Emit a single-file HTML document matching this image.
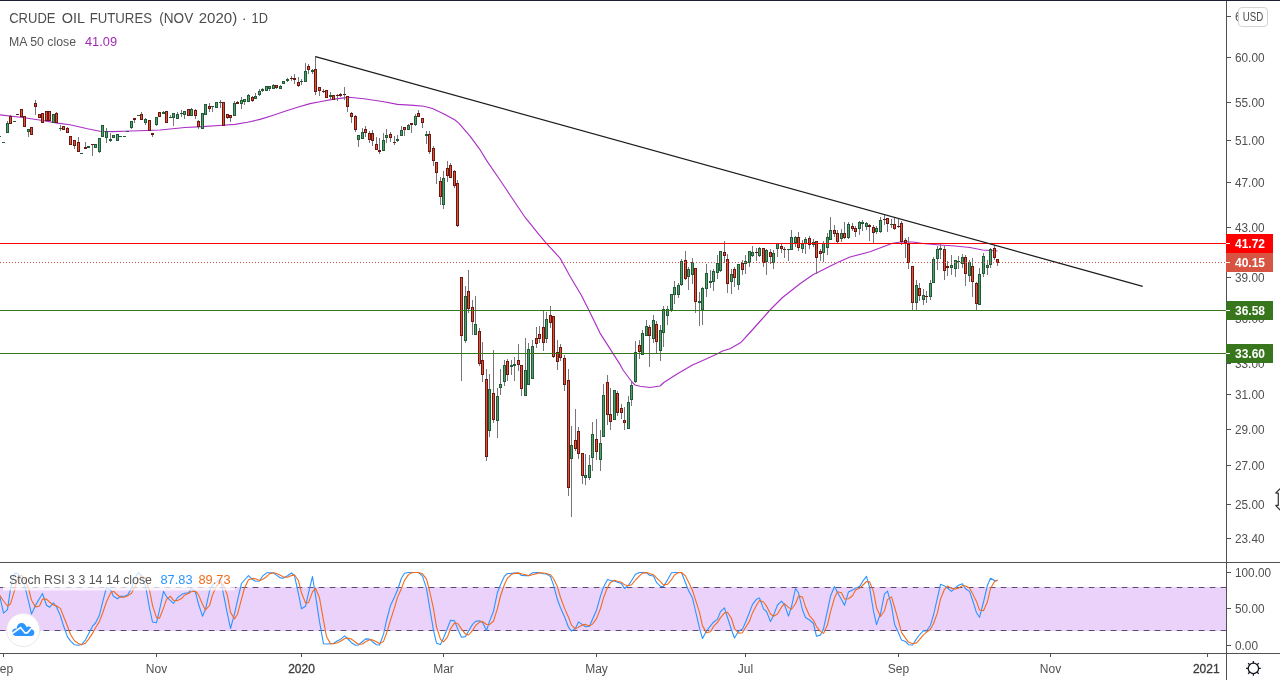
<!DOCTYPE html>
<html lang="en"><head><meta charset="utf-8"><title>CRUDE OIL FUTURES (NOV 2020) 1D</title>
<style>html,body{margin:0;padding:0;background:#fff;width:1280px;height:680px;overflow:hidden}svg{display:block}</style>
</head><body>
<svg width="1280" height="680" viewBox="0 0 1280 680" font-family="Liberation Sans, Arial, sans-serif">
<rect width="1280" height="680" fill="#fff"/>
<rect x="0" y="587" width="1226" height="44" fill="#ebd2fb"/>
<path d="M0 587.5H1226M0 630.5H1226" stroke="#5a4a78" stroke-width="1" stroke-dasharray="5.7 5.3" stroke-dashoffset="0.3" fill="none"/>
<path d="M-7.6 595.0 L-4.1 595.0 L-0.5 595.0 L3.5 613.1 L7.5 609.7 L10.5 588.5 L14.5 573.4 L17.5 573.2 L21.5 579.1 L24.5 585.2 L28.5 601.2 L31.5 614.0 L35.5 605.4 L39.5 598.5 L42.5 593.5 L46.5 605.2 L49.5 607.3 L53.5 602.8 L56.5 607.0 L60.5 616.0 L63.5 625.8 L67.5 636.9 L70.5 640.9 L74.5 644.8 L78.5 645.3 L81.5 644.5 L85.5 639.8 L88.5 634.1 L92.5 626.2 L95.5 623.0 L99.5 614.9 L102.5 602.7 L106.5 587.5 L110.5 589.8 L113.5 596.3 L117.5 598.8 L120.5 596.4 L124.5 596.2 L127.5 595.1 L131.5 588.5 L134.5 578.5 L138.5 572.5 L141.5 576.1 L145.5 585.9 L149.5 608.0 L152.5 622.0 L156.5 622.7 L159.5 610.2 L163.5 591.3 L166.5 596.8 L170.5 600.7 L173.5 603.3 L177.5 597.8 L181.5 594.6 L184.5 593.2 L188.5 592.9 L191.5 588.3 L195.5 592.4 L198.5 604.0 L202.5 616.2 L205.5 609.3 L209.5 591.0 L212.5 585.0 L216.5 581.9 L220.5 579.0 L223.5 594.4 L227.5 614.3 L230.5 628.5 L234.5 613.8 L237.5 600.4 L241.5 583.5 L244.5 580.0 L248.5 575.6 L252.5 579.6 L255.5 581.2 L259.5 581.0 L262.5 576.2 L266.5 572.8 L269.5 572.8 L273.5 572.8 L276.5 575.1 L280.5 578.0 L283.5 578.1 L287.5 575.8 L291.5 573.0 L294.5 575.8 L298.5 593.8 L301.5 608.8 L305.5 606.3 L308.5 592.9 L312.5 576.5 L315.5 595.3 L319.5 621.7 L323.5 643.8 L326.5 644.0 L330.5 643.7 L333.5 643.5 L337.5 640.8 L340.5 639.4 L344.5 635.9 L347.5 638.5 L351.5 642.7 L355.5 645.3 L358.5 645.0 L362.5 641.5 L365.5 638.9 L369.5 639.1 L372.5 641.7 L376.5 644.8 L379.5 645.0 L383.5 634.4 L386.5 620.5 L390.5 605.4 L394.5 597.0 L397.5 590.0 L401.5 578.0 L404.5 573.3 L408.5 572.5 L411.5 572.5 L415.5 572.5 L418.5 572.5 L422.5 576.2 L426.5 588.6 L429.5 606.7 L433.5 630.4 L436.5 643.2 L440.5 644.5 L443.5 638.0 L447.5 628.1 L450.5 620.3 L454.5 620.9 L457.5 628.4 L461.5 637.2 L465.5 636.6 L468.5 631.2 L472.5 624.4 L475.5 621.4 L479.5 620.7 L482.5 622.3 L486.5 630.5 L489.5 621.4 L493.5 611.2 L497.5 592.2 L500.5 584.7 L504.5 576.1 L507.5 573.5 L511.5 573.4 L514.5 573.1 L518.5 572.8 L521.5 575.5 L525.5 575.6 L528.5 575.6 L532.5 572.7 L536.5 572.5 L539.5 572.8 L543.5 573.8 L546.5 574.0 L550.5 576.6 L553.5 585.0 L557.5 599.8 L560.5 607.8 L564.5 616.7 L568.5 627.3 L571.5 631.1 L575.5 628.3 L578.5 621.9 L582.5 624.6 L585.5 626.8 L589.5 626.3 L592.5 619.3 L596.5 610.3 L600.5 595.9 L603.5 587.2 L607.5 579.4 L610.5 580.6 L614.5 580.9 L617.5 582.2 L621.5 583.6 L624.5 588.5 L628.5 585.1 L631.5 580.8 L635.5 574.2 L639.5 572.5 L642.5 572.5 L646.5 572.9 L649.5 575.2 L653.5 576.0 L656.5 582.4 L660.5 586.4 L663.5 586.5 L667.5 579.9 L671.5 572.7 L674.5 572.5 L678.5 572.5 L681.5 572.5 L685.5 582.8 L688.5 590.6 L692.5 598.1 L695.5 611.0 L699.5 628.2 L702.5 638.5 L706.5 631.0 L710.5 625.9 L713.5 622.2 L717.5 619.1 L720.5 611.6 L724.5 607.9 L727.5 617.5 L731.5 630.0 L734.5 638.0 L738.5 631.2 L742.5 629.1 L745.5 622.2 L749.5 612.2 L752.5 604.4 L756.5 599.3 L759.5 597.9 L763.5 608.9 L766.5 611.5 L770.5 621.6 L773.5 615.4 L777.5 605.0 L781.5 601.2 L784.5 604.8 L788.5 616.1 L791.5 606.6 L795.5 588.5 L798.5 592.8 L802.5 610.0 L805.5 617.5 L809.5 620.0 L813.5 623.5 L816.5 636.3 L820.5 635.1 L823.5 628.7 L827.5 610.7 L830.5 596.2 L834.5 586.5 L837.5 592.4 L841.5 599.4 L844.5 605.3 L848.5 591.9 L852.5 590.1 L855.5 588.2 L859.5 586.6 L862.5 581.7 L866.5 576.3 L869.5 587.2 L873.5 611.2 L876.5 624.6 L880.5 613.7 L884.5 593.9 L887.5 591.2 L891.5 605.6 L894.5 624.2 L898.5 632.8 L901.5 640.1 L905.5 641.5 L908.5 644.7 L912.5 645.0 L916.5 638.9 L919.5 634.8 L923.5 630.7 L926.5 631.0 L930.5 625.2 L933.5 615.0 L937.5 597.7 L940.5 584.3 L944.5 585.9 L947.5 588.0 L951.5 591.4 L955.5 587.6 L958.5 585.3 L962.5 583.8 L965.5 588.8 L969.5 591.4 L972.5 600.0 L976.5 612.7 L979.5 617.3 L983.5 602.0 L987.5 585.2 L990.5 578.3 L994.5 580.6 L997.5 580.6" fill="none" stroke="#2b95ff" stroke-width="1.1" stroke-linejoin="round" />
<path d="M-0.5 595.0 L3.5 601.0 L7.5 606.0 L10.5 603.8 L14.5 590.6 L17.5 578.4 L21.5 575.2 L24.5 579.2 L28.5 588.5 L31.5 600.2 L35.5 606.9 L39.5 606.0 L42.5 599.1 L46.5 599.1 L49.5 602.0 L53.5 605.1 L56.5 605.7 L60.5 608.6 L63.5 616.3 L67.5 626.2 L70.5 634.5 L74.5 640.8 L78.5 643.6 L81.5 644.8 L85.5 643.2 L88.5 639.4 L92.5 633.4 L95.5 627.8 L99.5 621.4 L102.5 613.5 L106.5 601.7 L110.5 593.3 L113.5 591.2 L117.5 595.0 L120.5 597.2 L124.5 597.1 L127.5 595.9 L131.5 593.3 L134.5 587.4 L138.5 579.9 L141.5 575.7 L145.5 578.2 L149.5 590.0 L152.5 605.3 L156.5 617.6 L159.5 618.3 L163.5 608.1 L166.5 599.4 L170.5 596.3 L173.5 600.3 L177.5 600.6 L181.5 598.6 L184.5 595.2 L188.5 593.6 L191.5 591.5 L195.5 591.2 L198.5 594.9 L202.5 604.2 L205.5 609.9 L209.5 605.5 L212.5 595.1 L216.5 586.0 L220.5 582.0 L223.5 585.1 L227.5 595.9 L230.5 612.4 L234.5 618.9 L237.5 614.2 L241.5 599.2 L244.5 588.0 L248.5 579.7 L252.5 578.4 L255.5 578.8 L259.5 580.6 L262.5 579.5 L266.5 576.7 L269.5 573.9 L273.5 572.8 L276.5 573.5 L280.5 575.3 L283.5 577.1 L287.5 577.3 L291.5 575.6 L294.5 574.8 L298.5 580.8 L301.5 592.8 L305.5 602.9 L308.5 602.6 L312.5 591.9 L315.5 588.2 L319.5 597.8 L323.5 620.3 L326.5 636.5 L330.5 643.8 L333.5 643.7 L337.5 642.7 L340.5 641.3 L344.5 638.7 L347.5 638.0 L351.5 639.1 L355.5 642.2 L358.5 644.3 L362.5 644.0 L365.5 641.8 L369.5 639.8 L372.5 639.9 L376.5 641.8 L379.5 643.8 L383.5 641.4 L386.5 633.3 L390.5 620.1 L394.5 607.6 L397.5 597.4 L401.5 588.3 L404.5 580.4 L408.5 574.6 L411.5 572.8 L415.5 572.5 L418.5 572.5 L422.5 573.8 L426.5 579.1 L429.5 590.5 L433.5 608.6 L436.5 626.8 L440.5 639.3 L443.5 641.9 L447.5 636.9 L450.5 628.8 L454.5 623.1 L457.5 623.2 L461.5 628.9 L465.5 634.1 L468.5 635.0 L472.5 630.7 L475.5 625.7 L479.5 622.1 L482.5 621.5 L486.5 624.5 L489.5 624.7 L493.5 621.0 L497.5 608.3 L500.5 596.0 L504.5 584.3 L507.5 578.1 L511.5 574.3 L514.5 573.4 L518.5 573.1 L521.5 573.8 L525.5 574.7 L528.5 575.6 L532.5 574.7 L536.5 573.6 L539.5 572.7 L543.5 573.0 L546.5 573.5 L550.5 574.8 L553.5 578.5 L557.5 587.1 L560.5 597.5 L564.5 608.1 L568.5 617.3 L571.5 625.1 L575.5 628.9 L578.5 627.1 L582.5 624.9 L585.5 624.4 L589.5 625.9 L592.5 624.1 L596.5 618.6 L600.5 608.5 L603.5 597.8 L607.5 587.5 L610.5 582.4 L614.5 580.3 L617.5 581.2 L621.5 582.2 L624.5 584.8 L628.5 585.7 L631.5 584.8 L635.5 580.0 L639.5 575.8 L642.5 573.1 L646.5 572.6 L649.5 573.6 L653.5 574.7 L656.5 577.9 L660.5 581.6 L663.5 585.1 L667.5 584.3 L671.5 579.7 L674.5 575.0 L678.5 572.6 L681.5 572.5 L685.5 575.9 L688.5 582.0 L692.5 590.5 L695.5 599.9 L699.5 612.4 L702.5 625.9 L706.5 632.6 L710.5 631.8 L713.5 626.4 L717.5 622.4 L720.5 617.6 L724.5 612.9 L727.5 612.3 L731.5 618.5 L734.5 628.5 L738.5 633.1 L742.5 632.8 L745.5 627.5 L749.5 621.1 L752.5 612.9 L756.5 605.3 L759.5 600.5 L763.5 602.0 L766.5 606.1 L770.5 614.0 L773.5 616.2 L777.5 614.0 L781.5 607.2 L784.5 603.7 L788.5 607.4 L791.5 609.2 L795.5 603.7 L798.5 596.0 L802.5 597.1 L805.5 606.8 L809.5 615.8 L813.5 620.3 L816.5 626.6 L820.5 631.6 L823.5 633.4 L827.5 624.8 L830.5 611.8 L834.5 597.8 L837.5 591.7 L841.5 592.8 L844.5 599.0 L848.5 598.8 L852.5 595.8 L855.5 590.1 L859.5 588.3 L862.5 585.5 L866.5 581.5 L869.5 581.7 L873.5 591.6 L876.5 607.7 L880.5 616.5 L884.5 610.7 L887.5 599.6 L891.5 596.9 L894.5 607.0 L898.5 620.9 L901.5 632.4 L905.5 638.1 L908.5 642.1 L912.5 643.7 L916.5 642.9 L919.5 639.6 L923.5 634.8 L926.5 632.2 L930.5 629.0 L933.5 623.7 L937.5 612.6 L940.5 599.0 L944.5 589.3 L947.5 586.0 L951.5 588.4 L955.5 589.0 L958.5 588.1 L962.5 585.6 L965.5 586.0 L969.5 588.0 L972.5 593.4 L976.5 601.4 L979.5 610.0 L983.5 610.7 L987.5 601.5 L990.5 588.5 L994.5 581.4 L997.5 579.9" fill="none" stroke="#f26b1d" stroke-width="1.1" stroke-linejoin="round" />
<path d="M0.0 114.8 L22.5 117.5 L41.0 120.2 L57.5 123.1 L70.0 124.8 L87.5 128.8 L100.0 131.2 L112.5 131.6 L131.0 131.0 L160.0 130.0 L185.0 127.5 L202.5 126.6 L222.5 125.2 L235.0 124.4 L247.5 122.2 L260.0 119.4 L272.5 115.5 L285.0 111.3 L297.5 107.3 L310.0 103.6 L320.0 101.7 L332.5 99.4 L343.8 97.9 L348.8 97.2 L363.8 98.8 L382.5 101.5 L397.5 104.4 L413.8 105.4 L423.8 106.2 L432.5 108.5 L445.0 114.4 L455.0 120.0 L458.8 123.1 L470.0 136.2 L480.0 149.7 L487.5 161.9 L500.0 180.0 L512.5 198.8 L525.0 217.2 L538.8 234.4 L546.2 243.1 L560.0 258.1 L562.5 262.5 L570.0 276.2 L581.2 295.0 L588.8 310.0 L600.0 333.1 L620.0 364.4 L623.0 370.0 L632.0 382.0 L635.0 385.0 L640.0 386.2 L650.0 387.5 L660.0 386.0 L663.8 382.5 L677.5 373.8 L692.5 365.0 L705.0 359.4 L717.5 353.8 L722.5 351.0 L730.0 348.8 L741.2 342.2 L750.0 332.5 L761.2 320.0 L770.0 310.0 L782.5 297.5 L800.0 283.8 L812.5 275.0 L825.0 268.8 L837.5 262.5 L850.0 257.0 L870.0 251.8 L882.5 247.0 L892.5 243.2 L902.5 241.8 L912.5 242.0 L925.0 243.8 L940.0 245.0 L955.0 246.0 L970.0 247.5 L982.5 250.0 L997.5 251.0" fill="none" stroke="#ab30c6" stroke-width="1.15" stroke-linejoin="round" />
<g shape-rendering="crispEdges">
<rect x="-2.0" y="136" width="3" height="1" fill="#1f5c36"/>
<rect x="2.0" y="142" width="3" height="1" fill="#1f5c36"/>
<rect x="7.0" y="121" width="1" height="12" fill="#75757a"/>
<rect x="6.0" y="123" width="3" height="10" fill="#1f5c36"/>
<rect x="7.0" y="124" width="1" height="8" fill="#5a9a70"/>
<rect x="10.0" y="115" width="1" height="9" fill="#75757a"/>
<rect x="9.0" y="116" width="3" height="8" fill="#6b1810"/>
<rect x="10.0" y="117" width="1" height="6" fill="#e0533a"/>
<rect x="13.0" y="121" width="3" height="1" fill="#1f5c36"/>
<rect x="16.0" y="114" width="3" height="1" fill="#6b1810"/>
<rect x="20.0" y="109" width="3" height="8" fill="#6b1810"/>
<rect x="21.0" y="110" width="1" height="6" fill="#e0533a"/>
<rect x="23.0" y="116" width="3" height="11" fill="#6b1810"/>
<rect x="24.0" y="117" width="1" height="9" fill="#e0533a"/>
<rect x="28.0" y="129" width="1" height="8" fill="#75757a"/>
<rect x="27.0" y="129" width="3" height="3" fill="#1f5c36"/>
<rect x="28.0" y="130" width="1" height="1" fill="#5a9a70"/>
<rect x="30.0" y="127" width="3" height="8" fill="#6b1810"/>
<rect x="31.0" y="128" width="1" height="6" fill="#e0533a"/>
<rect x="35.0" y="100" width="1" height="15" fill="#75757a"/>
<rect x="34.0" y="103" width="3" height="4" fill="#6b1810"/>
<rect x="35.0" y="104" width="1" height="2" fill="#e0533a"/>
<rect x="38.0" y="114" width="3" height="4" fill="#6b1810"/>
<rect x="39.0" y="115" width="1" height="2" fill="#e0533a"/>
<rect x="41.0" y="113" width="3" height="10" fill="#6b1810"/>
<rect x="42.0" y="114" width="1" height="8" fill="#e0533a"/>
<rect x="45.0" y="111" width="3" height="10" fill="#6b1810"/>
<rect x="46.0" y="112" width="1" height="8" fill="#e0533a"/>
<rect x="48.0" y="111" width="3" height="10" fill="#6b1810"/>
<rect x="49.0" y="112" width="1" height="8" fill="#e0533a"/>
<rect x="52.0" y="114" width="3" height="9" fill="#1f5c36"/>
<rect x="53.0" y="115" width="1" height="7" fill="#5a9a70"/>
<rect x="56.0" y="112" width="1" height="11" fill="#75757a"/>
<rect x="55.0" y="113" width="3" height="10" fill="#6b1810"/>
<rect x="56.0" y="114" width="1" height="8" fill="#e0533a"/>
<rect x="60.0" y="125" width="1" height="6" fill="#75757a"/>
<rect x="59.0" y="128" width="3" height="1" fill="#1f5c36"/>
<rect x="62.0" y="126" width="3" height="4" fill="#6b1810"/>
<rect x="63.0" y="127" width="1" height="2" fill="#e0533a"/>
<rect x="67.0" y="127" width="1" height="6" fill="#75757a"/>
<rect x="66.0" y="128" width="3" height="5" fill="#6b1810"/>
<rect x="67.0" y="129" width="1" height="3" fill="#e0533a"/>
<rect x="69.0" y="136" width="3" height="9" fill="#6b1810"/>
<rect x="70.0" y="137" width="1" height="7" fill="#e0533a"/>
<rect x="74.0" y="140" width="1" height="9" fill="#75757a"/>
<rect x="73.0" y="140" width="3" height="6" fill="#6b1810"/>
<rect x="74.0" y="141" width="1" height="4" fill="#e0533a"/>
<rect x="78.0" y="137" width="1" height="15" fill="#75757a"/>
<rect x="77.0" y="142" width="3" height="10" fill="#6b1810"/>
<rect x="78.0" y="143" width="1" height="8" fill="#e0533a"/>
<rect x="80.0" y="153" width="3" height="1" fill="#1f5c36"/>
<rect x="85.0" y="142" width="1" height="7" fill="#75757a"/>
<rect x="84.0" y="147" width="3" height="2" fill="#6b1810"/>
<rect x="87.0" y="146" width="3" height="2" fill="#1f5c36"/>
<rect x="92.0" y="144" width="1" height="12" fill="#75757a"/>
<rect x="91.0" y="144" width="3" height="1" fill="#6b1810"/>
<rect x="94.0" y="144" width="3" height="4" fill="#1f5c36"/>
<rect x="95.0" y="145" width="1" height="2" fill="#5a9a70"/>
<rect x="99.0" y="138" width="1" height="15" fill="#75757a"/>
<rect x="98.0" y="138" width="3" height="14" fill="#1f5c36"/>
<rect x="99.0" y="139" width="1" height="12" fill="#5a9a70"/>
<rect x="101.0" y="125" width="3" height="12" fill="#1f5c36"/>
<rect x="102.0" y="126" width="1" height="10" fill="#5a9a70"/>
<rect x="106.0" y="128" width="1" height="15" fill="#75757a"/>
<rect x="105.0" y="131" width="3" height="7" fill="#1f5c36"/>
<rect x="106.0" y="132" width="1" height="5" fill="#5a9a70"/>
<rect x="110.0" y="133" width="1" height="9" fill="#75757a"/>
<rect x="109.0" y="139" width="3" height="2" fill="#1f5c36"/>
<rect x="112.0" y="135" width="3" height="3" fill="#1f5c36"/>
<rect x="113.0" y="136" width="1" height="1" fill="#5a9a70"/>
<rect x="116.0" y="134" width="3" height="7" fill="#1f5c36"/>
<rect x="117.0" y="135" width="1" height="5" fill="#5a9a70"/>
<rect x="119.0" y="136" width="3" height="1" fill="#1f5c36"/>
<rect x="123.0" y="136" width="3" height="1" fill="#1f5c36"/>
<rect x="126.0" y="131" width="3" height="1" fill="#1f5c36"/>
<rect x="131.0" y="121" width="1" height="8" fill="#75757a"/>
<rect x="130.0" y="121" width="3" height="7" fill="#1f5c36"/>
<rect x="131.0" y="122" width="1" height="5" fill="#5a9a70"/>
<rect x="134.0" y="118" width="1" height="5" fill="#75757a"/>
<rect x="133.0" y="118" width="3" height="2" fill="#6b1810"/>
<rect x="137.0" y="115" width="3" height="1" fill="#1f5c36"/>
<rect x="141.0" y="112" width="1" height="8" fill="#75757a"/>
<rect x="140.0" y="114" width="3" height="6" fill="#6b1810"/>
<rect x="141.0" y="115" width="1" height="4" fill="#e0533a"/>
<rect x="145.0" y="118" width="1" height="7" fill="#75757a"/>
<rect x="144.0" y="119" width="3" height="4" fill="#1f5c36"/>
<rect x="145.0" y="120" width="1" height="2" fill="#5a9a70"/>
<rect x="148.0" y="120" width="3" height="11" fill="#6b1810"/>
<rect x="149.0" y="121" width="1" height="9" fill="#e0533a"/>
<rect x="152.0" y="133" width="1" height="4" fill="#75757a"/>
<rect x="151.0" y="133" width="3" height="2" fill="#6b1810"/>
<rect x="156.0" y="117" width="1" height="9" fill="#75757a"/>
<rect x="155.0" y="117" width="3" height="8" fill="#1f5c36"/>
<rect x="156.0" y="118" width="1" height="6" fill="#5a9a70"/>
<rect x="158.0" y="112" width="3" height="5" fill="#6b1810"/>
<rect x="159.0" y="113" width="1" height="3" fill="#e0533a"/>
<rect x="163.0" y="111" width="1" height="3" fill="#75757a"/>
<rect x="162.0" y="112" width="3" height="2" fill="#1f5c36"/>
<rect x="165.0" y="111" width="3" height="12" fill="#6b1810"/>
<rect x="166.0" y="112" width="1" height="10" fill="#e0533a"/>
<rect x="170.0" y="115" width="1" height="2" fill="#75757a"/>
<rect x="169.0" y="117" width="3" height="1" fill="#1f5c36"/>
<rect x="173.0" y="113" width="1" height="13" fill="#75757a"/>
<rect x="172.0" y="113" width="3" height="5" fill="#1f5c36"/>
<rect x="173.0" y="114" width="1" height="3" fill="#5a9a70"/>
<rect x="177.0" y="112" width="1" height="7" fill="#75757a"/>
<rect x="176.0" y="114" width="3" height="5" fill="#1f5c36"/>
<rect x="177.0" y="115" width="1" height="3" fill="#5a9a70"/>
<rect x="181.0" y="110" width="1" height="7" fill="#75757a"/>
<rect x="180.0" y="113" width="3" height="1" fill="#1f5c36"/>
<rect x="184.0" y="111" width="1" height="8" fill="#75757a"/>
<rect x="183.0" y="111" width="3" height="4" fill="#1f5c36"/>
<rect x="184.0" y="112" width="1" height="2" fill="#5a9a70"/>
<rect x="187.0" y="109" width="3" height="7" fill="#6b1810"/>
<rect x="188.0" y="110" width="1" height="5" fill="#e0533a"/>
<rect x="191.0" y="108" width="1" height="8" fill="#75757a"/>
<rect x="190.0" y="109" width="3" height="7" fill="#1f5c36"/>
<rect x="191.0" y="110" width="1" height="5" fill="#5a9a70"/>
<rect x="195.0" y="109" width="1" height="10" fill="#75757a"/>
<rect x="194.0" y="110" width="3" height="6" fill="#6b1810"/>
<rect x="195.0" y="111" width="1" height="4" fill="#e0533a"/>
<rect x="198.0" y="120" width="1" height="9" fill="#75757a"/>
<rect x="197.0" y="121" width="3" height="6" fill="#6b1810"/>
<rect x="198.0" y="122" width="1" height="4" fill="#e0533a"/>
<rect x="201.0" y="113" width="3" height="16" fill="#1f5c36"/>
<rect x="202.0" y="114" width="1" height="14" fill="#5a9a70"/>
<rect x="204.0" y="104" width="3" height="11" fill="#1f5c36"/>
<rect x="205.0" y="105" width="1" height="9" fill="#5a9a70"/>
<rect x="209.0" y="103" width="1" height="9" fill="#75757a"/>
<rect x="208.0" y="106" width="3" height="3" fill="#6b1810"/>
<rect x="209.0" y="107" width="1" height="1" fill="#e0533a"/>
<rect x="212.0" y="106" width="1" height="6" fill="#75757a"/>
<rect x="211.0" y="106" width="3" height="1" fill="#1f5c36"/>
<rect x="215.0" y="102" width="3" height="6" fill="#1f5c36"/>
<rect x="216.0" y="103" width="1" height="4" fill="#5a9a70"/>
<rect x="220.0" y="100" width="1" height="8" fill="#75757a"/>
<rect x="219.0" y="102" width="3" height="1" fill="#1f5c36"/>
<rect x="222.0" y="102" width="3" height="24" fill="#6b1810"/>
<rect x="223.0" y="103" width="1" height="22" fill="#e0533a"/>
<rect x="227.0" y="114" width="1" height="5" fill="#75757a"/>
<rect x="226.0" y="114" width="3" height="4" fill="#6b1810"/>
<rect x="227.0" y="115" width="1" height="2" fill="#e0533a"/>
<rect x="230.0" y="115" width="1" height="7" fill="#75757a"/>
<rect x="229.0" y="115" width="3" height="3" fill="#6b1810"/>
<rect x="230.0" y="116" width="1" height="1" fill="#e0533a"/>
<rect x="234.0" y="101" width="1" height="15" fill="#75757a"/>
<rect x="233.0" y="103" width="3" height="13" fill="#1f5c36"/>
<rect x="234.0" y="104" width="1" height="11" fill="#5a9a70"/>
<rect x="237.0" y="101" width="1" height="3" fill="#75757a"/>
<rect x="236.0" y="102" width="3" height="2" fill="#6b1810"/>
<rect x="241.0" y="97" width="1" height="12" fill="#75757a"/>
<rect x="240.0" y="100" width="3" height="4" fill="#1f5c36"/>
<rect x="241.0" y="101" width="1" height="2" fill="#5a9a70"/>
<rect x="244.0" y="99" width="1" height="6" fill="#75757a"/>
<rect x="243.0" y="99" width="3" height="3" fill="#1f5c36"/>
<rect x="244.0" y="100" width="1" height="1" fill="#5a9a70"/>
<rect x="248.0" y="94" width="1" height="8" fill="#75757a"/>
<rect x="247.0" y="95" width="3" height="7" fill="#1f5c36"/>
<rect x="248.0" y="96" width="1" height="5" fill="#5a9a70"/>
<rect x="252.0" y="96" width="1" height="6" fill="#75757a"/>
<rect x="251.0" y="97" width="3" height="4" fill="#6b1810"/>
<rect x="252.0" y="98" width="1" height="2" fill="#e0533a"/>
<rect x="255.0" y="93" width="1" height="6" fill="#75757a"/>
<rect x="254.0" y="96" width="3" height="3" fill="#1f5c36"/>
<rect x="255.0" y="97" width="1" height="1" fill="#5a9a70"/>
<rect x="259.0" y="89" width="1" height="7" fill="#75757a"/>
<rect x="258.0" y="91" width="3" height="4" fill="#1f5c36"/>
<rect x="259.0" y="92" width="1" height="2" fill="#5a9a70"/>
<rect x="262.0" y="88" width="1" height="4" fill="#75757a"/>
<rect x="261.0" y="89" width="3" height="2" fill="#1f5c36"/>
<rect x="265.0" y="86" width="3" height="5" fill="#1f5c36"/>
<rect x="266.0" y="87" width="1" height="3" fill="#5a9a70"/>
<rect x="269.0" y="86" width="1" height="5" fill="#75757a"/>
<rect x="268.0" y="86" width="3" height="3" fill="#1f5c36"/>
<rect x="269.0" y="87" width="1" height="1" fill="#5a9a70"/>
<rect x="273.0" y="84" width="1" height="5" fill="#75757a"/>
<rect x="272.0" y="85" width="3" height="4" fill="#1f5c36"/>
<rect x="273.0" y="86" width="1" height="2" fill="#5a9a70"/>
<rect x="276.0" y="85" width="1" height="4" fill="#75757a"/>
<rect x="275.0" y="85" width="3" height="3" fill="#6b1810"/>
<rect x="276.0" y="86" width="1" height="1" fill="#e0533a"/>
<rect x="280.0" y="85" width="1" height="4" fill="#75757a"/>
<rect x="279.0" y="86" width="3" height="3" fill="#1f5c36"/>
<rect x="280.0" y="87" width="1" height="1" fill="#5a9a70"/>
<rect x="282.0" y="81" width="3" height="3" fill="#1f5c36"/>
<rect x="283.0" y="82" width="1" height="1" fill="#5a9a70"/>
<rect x="287.0" y="78" width="1" height="4" fill="#75757a"/>
<rect x="286.0" y="79" width="3" height="2" fill="#1f5c36"/>
<rect x="291.0" y="76" width="1" height="5" fill="#75757a"/>
<rect x="290.0" y="78" width="3" height="1" fill="#6b1810"/>
<rect x="294.0" y="74" width="1" height="10" fill="#75757a"/>
<rect x="293.0" y="78" width="3" height="2" fill="#6b1810"/>
<rect x="298.0" y="77" width="1" height="10" fill="#75757a"/>
<rect x="297.0" y="82" width="3" height="4" fill="#6b1810"/>
<rect x="298.0" y="83" width="1" height="2" fill="#e0533a"/>
<rect x="301.0" y="79" width="1" height="6" fill="#75757a"/>
<rect x="300.0" y="81" width="3" height="1" fill="#1f5c36"/>
<rect x="305.0" y="63" width="1" height="19" fill="#75757a"/>
<rect x="304.0" y="71" width="3" height="11" fill="#1f5c36"/>
<rect x="305.0" y="72" width="1" height="9" fill="#5a9a70"/>
<rect x="308.0" y="64" width="1" height="10" fill="#75757a"/>
<rect x="307.0" y="66" width="3" height="4" fill="#6b1810"/>
<rect x="308.0" y="67" width="1" height="2" fill="#e0533a"/>
<rect x="312.0" y="69" width="1" height="5" fill="#75757a"/>
<rect x="311.0" y="70" width="3" height="2" fill="#1f5c36"/>
<rect x="315.0" y="56" width="1" height="39" fill="#75757a"/>
<rect x="314.0" y="69" width="3" height="23" fill="#6b1810"/>
<rect x="315.0" y="70" width="1" height="21" fill="#e0533a"/>
<rect x="319.0" y="87" width="1" height="9" fill="#75757a"/>
<rect x="318.0" y="87" width="3" height="4" fill="#6b1810"/>
<rect x="319.0" y="88" width="1" height="2" fill="#e0533a"/>
<rect x="323.0" y="89" width="1" height="4" fill="#75757a"/>
<rect x="322.0" y="91" width="3" height="1" fill="#6b1810"/>
<rect x="325.0" y="90" width="3" height="8" fill="#6b1810"/>
<rect x="326.0" y="91" width="1" height="6" fill="#e0533a"/>
<rect x="330.0" y="92" width="1" height="7" fill="#75757a"/>
<rect x="329.0" y="95" width="3" height="2" fill="#1f5c36"/>
<rect x="332.0" y="95" width="3" height="5" fill="#6b1810"/>
<rect x="333.0" y="96" width="1" height="3" fill="#e0533a"/>
<rect x="337.0" y="94" width="1" height="7" fill="#75757a"/>
<rect x="336.0" y="95" width="3" height="1" fill="#6b1810"/>
<rect x="340.0" y="93" width="1" height="4" fill="#75757a"/>
<rect x="339.0" y="94" width="3" height="2" fill="#6b1810"/>
<rect x="344.0" y="87" width="1" height="13" fill="#75757a"/>
<rect x="343.0" y="94" width="3" height="1" fill="#6b1810"/>
<rect x="347.0" y="96" width="1" height="16" fill="#75757a"/>
<rect x="346.0" y="96" width="3" height="11" fill="#6b1810"/>
<rect x="347.0" y="97" width="1" height="9" fill="#e0533a"/>
<rect x="351.0" y="112" width="1" height="11" fill="#75757a"/>
<rect x="350.0" y="113" width="3" height="4" fill="#6b1810"/>
<rect x="351.0" y="114" width="1" height="2" fill="#e0533a"/>
<rect x="355.0" y="115" width="1" height="17" fill="#75757a"/>
<rect x="354.0" y="116" width="3" height="14" fill="#6b1810"/>
<rect x="355.0" y="117" width="1" height="12" fill="#e0533a"/>
<rect x="358.0" y="135" width="1" height="12" fill="#75757a"/>
<rect x="357.0" y="135" width="3" height="5" fill="#1f5c36"/>
<rect x="358.0" y="136" width="1" height="3" fill="#5a9a70"/>
<rect x="362.0" y="128" width="1" height="11" fill="#75757a"/>
<rect x="361.0" y="132" width="3" height="7" fill="#1f5c36"/>
<rect x="362.0" y="133" width="1" height="5" fill="#5a9a70"/>
<rect x="365.0" y="126" width="1" height="11" fill="#75757a"/>
<rect x="364.0" y="129" width="3" height="4" fill="#6b1810"/>
<rect x="365.0" y="130" width="1" height="2" fill="#e0533a"/>
<rect x="369.0" y="131" width="1" height="12" fill="#75757a"/>
<rect x="368.0" y="133" width="3" height="7" fill="#6b1810"/>
<rect x="369.0" y="134" width="1" height="5" fill="#e0533a"/>
<rect x="372.0" y="130" width="1" height="16" fill="#75757a"/>
<rect x="371.0" y="133" width="3" height="8" fill="#6b1810"/>
<rect x="372.0" y="134" width="1" height="6" fill="#e0533a"/>
<rect x="376.0" y="137" width="1" height="13" fill="#75757a"/>
<rect x="375.0" y="144" width="3" height="6" fill="#6b1810"/>
<rect x="376.0" y="145" width="1" height="4" fill="#e0533a"/>
<rect x="379.0" y="138" width="1" height="16" fill="#75757a"/>
<rect x="378.0" y="150" width="3" height="2" fill="#6b1810"/>
<rect x="383.0" y="133" width="1" height="18" fill="#75757a"/>
<rect x="382.0" y="140" width="3" height="11" fill="#1f5c36"/>
<rect x="383.0" y="141" width="1" height="9" fill="#5a9a70"/>
<rect x="386.0" y="129" width="1" height="14" fill="#75757a"/>
<rect x="385.0" y="135" width="3" height="3" fill="#1f5c36"/>
<rect x="386.0" y="136" width="1" height="1" fill="#5a9a70"/>
<rect x="390.0" y="132" width="1" height="10" fill="#75757a"/>
<rect x="389.0" y="134" width="3" height="4" fill="#6b1810"/>
<rect x="390.0" y="135" width="1" height="2" fill="#e0533a"/>
<rect x="394.0" y="136" width="1" height="9" fill="#75757a"/>
<rect x="393.0" y="142" width="3" height="1" fill="#6b1810"/>
<rect x="397.0" y="135" width="1" height="7" fill="#75757a"/>
<rect x="396.0" y="139" width="3" height="2" fill="#1f5c36"/>
<rect x="401.0" y="126" width="1" height="10" fill="#75757a"/>
<rect x="400.0" y="130" width="3" height="6" fill="#1f5c36"/>
<rect x="401.0" y="131" width="1" height="4" fill="#5a9a70"/>
<rect x="404.0" y="127" width="1" height="9" fill="#75757a"/>
<rect x="403.0" y="127" width="3" height="3" fill="#6b1810"/>
<rect x="404.0" y="128" width="1" height="1" fill="#e0533a"/>
<rect x="408.0" y="124" width="1" height="6" fill="#75757a"/>
<rect x="407.0" y="125" width="3" height="5" fill="#1f5c36"/>
<rect x="408.0" y="126" width="1" height="3" fill="#5a9a70"/>
<rect x="411.0" y="123" width="1" height="10" fill="#75757a"/>
<rect x="410.0" y="123" width="3" height="2" fill="#6b1810"/>
<rect x="415.0" y="114" width="1" height="12" fill="#75757a"/>
<rect x="414.0" y="116" width="3" height="9" fill="#1f5c36"/>
<rect x="415.0" y="117" width="1" height="7" fill="#5a9a70"/>
<rect x="418.0" y="110" width="1" height="7" fill="#75757a"/>
<rect x="417.0" y="113" width="3" height="4" fill="#6b1810"/>
<rect x="418.0" y="114" width="1" height="2" fill="#e0533a"/>
<rect x="422.0" y="118" width="1" height="10" fill="#75757a"/>
<rect x="421.0" y="118" width="3" height="5" fill="#6b1810"/>
<rect x="422.0" y="119" width="1" height="3" fill="#e0533a"/>
<rect x="426.0" y="131" width="1" height="13" fill="#75757a"/>
<rect x="425.0" y="134" width="3" height="2" fill="#1f5c36"/>
<rect x="429.0" y="131" width="1" height="23" fill="#75757a"/>
<rect x="428.0" y="134" width="3" height="18" fill="#6b1810"/>
<rect x="429.0" y="135" width="1" height="16" fill="#e0533a"/>
<rect x="433.0" y="146" width="1" height="20" fill="#75757a"/>
<rect x="432.0" y="148" width="3" height="13" fill="#6b1810"/>
<rect x="433.0" y="149" width="1" height="11" fill="#e0533a"/>
<rect x="436.0" y="162" width="1" height="22" fill="#75757a"/>
<rect x="435.0" y="162" width="3" height="11" fill="#6b1810"/>
<rect x="436.0" y="163" width="1" height="9" fill="#e0533a"/>
<rect x="440.0" y="177" width="1" height="28" fill="#75757a"/>
<rect x="439.0" y="181" width="3" height="16" fill="#6b1810"/>
<rect x="440.0" y="182" width="1" height="14" fill="#e0533a"/>
<rect x="443.0" y="171" width="1" height="38" fill="#75757a"/>
<rect x="442.0" y="178" width="3" height="27" fill="#1f5c36"/>
<rect x="443.0" y="179" width="1" height="25" fill="#5a9a70"/>
<rect x="447.0" y="161" width="1" height="21" fill="#75757a"/>
<rect x="446.0" y="168" width="3" height="8" fill="#6b1810"/>
<rect x="447.0" y="169" width="1" height="6" fill="#e0533a"/>
<rect x="450.0" y="163" width="1" height="15" fill="#75757a"/>
<rect x="449.0" y="165" width="3" height="13" fill="#6b1810"/>
<rect x="450.0" y="166" width="1" height="11" fill="#e0533a"/>
<rect x="454.0" y="170" width="1" height="18" fill="#75757a"/>
<rect x="453.0" y="171" width="3" height="15" fill="#6b1810"/>
<rect x="454.0" y="172" width="1" height="13" fill="#e0533a"/>
<rect x="457.0" y="180" width="1" height="47" fill="#75757a"/>
<rect x="456.0" y="183" width="3" height="43" fill="#6b1810"/>
<rect x="457.0" y="184" width="1" height="41" fill="#e0533a"/>
<rect x="461.0" y="277" width="1" height="104" fill="#75757a"/>
<rect x="460.0" y="277" width="3" height="59" fill="#6b1810"/>
<rect x="461.0" y="278" width="1" height="57" fill="#e0533a"/>
<rect x="465.0" y="286" width="1" height="57" fill="#75757a"/>
<rect x="464.0" y="296" width="3" height="45" fill="#1f5c36"/>
<rect x="465.0" y="297" width="1" height="43" fill="#5a9a70"/>
<rect x="468.0" y="270" width="1" height="43" fill="#75757a"/>
<rect x="467.0" y="291" width="3" height="18" fill="#6b1810"/>
<rect x="468.0" y="292" width="1" height="16" fill="#e0533a"/>
<rect x="472.0" y="300" width="1" height="35" fill="#75757a"/>
<rect x="471.0" y="307" width="3" height="15" fill="#6b1810"/>
<rect x="472.0" y="308" width="1" height="13" fill="#e0533a"/>
<rect x="475.0" y="296" width="1" height="39" fill="#75757a"/>
<rect x="474.0" y="324" width="3" height="11" fill="#1f5c36"/>
<rect x="475.0" y="325" width="1" height="9" fill="#5a9a70"/>
<rect x="479.0" y="328" width="1" height="38" fill="#75757a"/>
<rect x="478.0" y="331" width="3" height="33" fill="#6b1810"/>
<rect x="479.0" y="332" width="1" height="31" fill="#e0533a"/>
<rect x="482.0" y="342" width="1" height="40" fill="#75757a"/>
<rect x="481.0" y="360" width="3" height="15" fill="#6b1810"/>
<rect x="482.0" y="361" width="1" height="13" fill="#e0533a"/>
<rect x="486.0" y="369" width="1" height="92" fill="#75757a"/>
<rect x="485.0" y="379" width="3" height="78" fill="#6b1810"/>
<rect x="486.0" y="380" width="1" height="76" fill="#e0533a"/>
<rect x="489.0" y="374" width="1" height="63" fill="#75757a"/>
<rect x="488.0" y="389" width="3" height="42" fill="#1f5c36"/>
<rect x="489.0" y="390" width="1" height="40" fill="#5a9a70"/>
<rect x="493.0" y="350" width="1" height="73" fill="#75757a"/>
<rect x="492.0" y="393" width="3" height="27" fill="#6b1810"/>
<rect x="493.0" y="394" width="1" height="25" fill="#e0533a"/>
<rect x="497.0" y="388" width="1" height="50" fill="#75757a"/>
<rect x="496.0" y="396" width="3" height="25" fill="#1f5c36"/>
<rect x="497.0" y="397" width="1" height="23" fill="#5a9a70"/>
<rect x="500.0" y="369" width="1" height="26" fill="#75757a"/>
<rect x="499.0" y="384" width="3" height="4" fill="#1f5c36"/>
<rect x="500.0" y="385" width="1" height="2" fill="#5a9a70"/>
<rect x="504.0" y="360" width="1" height="26" fill="#75757a"/>
<rect x="503.0" y="365" width="3" height="17" fill="#1f5c36"/>
<rect x="504.0" y="366" width="1" height="15" fill="#5a9a70"/>
<rect x="507.0" y="359" width="1" height="22" fill="#75757a"/>
<rect x="506.0" y="361" width="3" height="14" fill="#6b1810"/>
<rect x="507.0" y="362" width="1" height="12" fill="#e0533a"/>
<rect x="511.0" y="360" width="1" height="15" fill="#75757a"/>
<rect x="510.0" y="365" width="3" height="2" fill="#1f5c36"/>
<rect x="514.0" y="357" width="1" height="24" fill="#75757a"/>
<rect x="513.0" y="364" width="3" height="2" fill="#1f5c36"/>
<rect x="518.0" y="344" width="1" height="27" fill="#75757a"/>
<rect x="517.0" y="360" width="3" height="5" fill="#6b1810"/>
<rect x="518.0" y="361" width="1" height="3" fill="#e0533a"/>
<rect x="521.0" y="365" width="1" height="31" fill="#75757a"/>
<rect x="520.0" y="365" width="3" height="24" fill="#6b1810"/>
<rect x="521.0" y="366" width="1" height="22" fill="#e0533a"/>
<rect x="525.0" y="338" width="1" height="58" fill="#75757a"/>
<rect x="524.0" y="370" width="3" height="26" fill="#1f5c36"/>
<rect x="525.0" y="371" width="1" height="24" fill="#5a9a70"/>
<rect x="528.0" y="343" width="1" height="42" fill="#75757a"/>
<rect x="527.0" y="349" width="3" height="36" fill="#1f5c36"/>
<rect x="528.0" y="350" width="1" height="34" fill="#5a9a70"/>
<rect x="532.0" y="340" width="1" height="39" fill="#75757a"/>
<rect x="531.0" y="346" width="3" height="33" fill="#1f5c36"/>
<rect x="532.0" y="347" width="1" height="31" fill="#5a9a70"/>
<rect x="536.0" y="327" width="1" height="21" fill="#75757a"/>
<rect x="535.0" y="338" width="3" height="6" fill="#6b1810"/>
<rect x="536.0" y="339" width="1" height="4" fill="#e0533a"/>
<rect x="539.0" y="326" width="1" height="17" fill="#75757a"/>
<rect x="538.0" y="334" width="3" height="5" fill="#6b1810"/>
<rect x="539.0" y="335" width="1" height="3" fill="#e0533a"/>
<rect x="543.0" y="310" width="1" height="41" fill="#75757a"/>
<rect x="542.0" y="327" width="3" height="16" fill="#6b1810"/>
<rect x="543.0" y="328" width="1" height="14" fill="#e0533a"/>
<rect x="546.0" y="312" width="1" height="31" fill="#75757a"/>
<rect x="545.0" y="319" width="3" height="20" fill="#1f5c36"/>
<rect x="546.0" y="320" width="1" height="18" fill="#5a9a70"/>
<rect x="550.0" y="306" width="1" height="22" fill="#75757a"/>
<rect x="549.0" y="315" width="3" height="8" fill="#6b1810"/>
<rect x="550.0" y="316" width="1" height="6" fill="#e0533a"/>
<rect x="553.0" y="316" width="1" height="42" fill="#75757a"/>
<rect x="552.0" y="316" width="3" height="41" fill="#6b1810"/>
<rect x="553.0" y="317" width="1" height="39" fill="#e0533a"/>
<rect x="557.0" y="340" width="1" height="30" fill="#75757a"/>
<rect x="556.0" y="352" width="3" height="10" fill="#6b1810"/>
<rect x="557.0" y="353" width="1" height="8" fill="#e0533a"/>
<rect x="560.0" y="344" width="1" height="17" fill="#75757a"/>
<rect x="559.0" y="347" width="3" height="11" fill="#6b1810"/>
<rect x="560.0" y="348" width="1" height="9" fill="#e0533a"/>
<rect x="564.0" y="355" width="1" height="36" fill="#75757a"/>
<rect x="563.0" y="358" width="3" height="27" fill="#6b1810"/>
<rect x="564.0" y="359" width="1" height="25" fill="#e0533a"/>
<rect x="568.0" y="369" width="1" height="127" fill="#75757a"/>
<rect x="567.0" y="380" width="3" height="108" fill="#6b1810"/>
<rect x="568.0" y="381" width="1" height="106" fill="#e0533a"/>
<rect x="571.0" y="426" width="1" height="91" fill="#75757a"/>
<rect x="570.0" y="445" width="3" height="14" fill="#1f5c36"/>
<rect x="571.0" y="446" width="1" height="12" fill="#5a9a70"/>
<rect x="575.0" y="409" width="1" height="42" fill="#75757a"/>
<rect x="574.0" y="440" width="3" height="9" fill="#6b1810"/>
<rect x="575.0" y="441" width="1" height="7" fill="#e0533a"/>
<rect x="578.0" y="427" width="1" height="32" fill="#75757a"/>
<rect x="577.0" y="431" width="3" height="23" fill="#6b1810"/>
<rect x="578.0" y="432" width="1" height="21" fill="#e0533a"/>
<rect x="582.0" y="453" width="1" height="31" fill="#75757a"/>
<rect x="581.0" y="453" width="3" height="23" fill="#6b1810"/>
<rect x="582.0" y="454" width="1" height="21" fill="#e0533a"/>
<rect x="585.0" y="454" width="1" height="31" fill="#75757a"/>
<rect x="584.0" y="475" width="3" height="3" fill="#1f5c36"/>
<rect x="585.0" y="476" width="1" height="1" fill="#5a9a70"/>
<rect x="589.0" y="455" width="1" height="25" fill="#75757a"/>
<rect x="588.0" y="465" width="3" height="13" fill="#1f5c36"/>
<rect x="589.0" y="466" width="1" height="11" fill="#5a9a70"/>
<rect x="592.0" y="422" width="1" height="49" fill="#75757a"/>
<rect x="591.0" y="434" width="3" height="24" fill="#1f5c36"/>
<rect x="592.0" y="435" width="1" height="22" fill="#5a9a70"/>
<rect x="596.0" y="419" width="1" height="41" fill="#75757a"/>
<rect x="595.0" y="439" width="3" height="13" fill="#6b1810"/>
<rect x="596.0" y="440" width="1" height="11" fill="#e0533a"/>
<rect x="600.0" y="430" width="1" height="41" fill="#75757a"/>
<rect x="599.0" y="443" width="3" height="17" fill="#1f5c36"/>
<rect x="600.0" y="444" width="1" height="15" fill="#5a9a70"/>
<rect x="603.0" y="384" width="1" height="53" fill="#75757a"/>
<rect x="602.0" y="395" width="3" height="42" fill="#1f5c36"/>
<rect x="603.0" y="396" width="1" height="40" fill="#5a9a70"/>
<rect x="607.0" y="375" width="1" height="50" fill="#75757a"/>
<rect x="606.0" y="382" width="3" height="33" fill="#6b1810"/>
<rect x="607.0" y="383" width="1" height="31" fill="#e0533a"/>
<rect x="610.0" y="388" width="1" height="42" fill="#75757a"/>
<rect x="609.0" y="414" width="3" height="8" fill="#6b1810"/>
<rect x="610.0" y="415" width="1" height="6" fill="#e0533a"/>
<rect x="613.0" y="390" width="3" height="30" fill="#1f5c36"/>
<rect x="614.0" y="391" width="1" height="28" fill="#5a9a70"/>
<rect x="617.0" y="391" width="1" height="25" fill="#75757a"/>
<rect x="616.0" y="393" width="3" height="20" fill="#6b1810"/>
<rect x="617.0" y="394" width="1" height="18" fill="#e0533a"/>
<rect x="621.0" y="404" width="1" height="15" fill="#75757a"/>
<rect x="620.0" y="408" width="3" height="5" fill="#6b1810"/>
<rect x="621.0" y="409" width="1" height="3" fill="#e0533a"/>
<rect x="624.0" y="407" width="1" height="23" fill="#75757a"/>
<rect x="623.0" y="420" width="3" height="3" fill="#6b1810"/>
<rect x="624.0" y="421" width="1" height="1" fill="#e0533a"/>
<rect x="628.0" y="396" width="1" height="33" fill="#75757a"/>
<rect x="627.0" y="402" width="3" height="27" fill="#1f5c36"/>
<rect x="628.0" y="403" width="1" height="25" fill="#5a9a70"/>
<rect x="631.0" y="381" width="1" height="25" fill="#75757a"/>
<rect x="630.0" y="385" width="3" height="15" fill="#1f5c36"/>
<rect x="631.0" y="386" width="1" height="13" fill="#5a9a70"/>
<rect x="635.0" y="341" width="1" height="42" fill="#75757a"/>
<rect x="634.0" y="352" width="3" height="30" fill="#1f5c36"/>
<rect x="635.0" y="353" width="1" height="28" fill="#5a9a70"/>
<rect x="639.0" y="340" width="1" height="19" fill="#75757a"/>
<rect x="638.0" y="345" width="3" height="7" fill="#6b1810"/>
<rect x="639.0" y="346" width="1" height="5" fill="#e0533a"/>
<rect x="642.0" y="330" width="1" height="25" fill="#75757a"/>
<rect x="641.0" y="333" width="3" height="22" fill="#1f5c36"/>
<rect x="642.0" y="334" width="1" height="20" fill="#5a9a70"/>
<rect x="646.0" y="320" width="1" height="16" fill="#75757a"/>
<rect x="645.0" y="326" width="3" height="10" fill="#1f5c36"/>
<rect x="646.0" y="327" width="1" height="8" fill="#5a9a70"/>
<rect x="649.0" y="325" width="1" height="42" fill="#75757a"/>
<rect x="648.0" y="327" width="3" height="9" fill="#6b1810"/>
<rect x="649.0" y="328" width="1" height="7" fill="#e0533a"/>
<rect x="653.0" y="315" width="1" height="28" fill="#75757a"/>
<rect x="652.0" y="320" width="3" height="19" fill="#1f5c36"/>
<rect x="653.0" y="321" width="1" height="17" fill="#5a9a70"/>
<rect x="656.0" y="321" width="1" height="32" fill="#75757a"/>
<rect x="655.0" y="324" width="3" height="18" fill="#6b1810"/>
<rect x="656.0" y="325" width="1" height="16" fill="#e0533a"/>
<rect x="660.0" y="325" width="1" height="36" fill="#75757a"/>
<rect x="659.0" y="330" width="3" height="21" fill="#1f5c36"/>
<rect x="660.0" y="331" width="1" height="19" fill="#5a9a70"/>
<rect x="663.0" y="306" width="1" height="41" fill="#75757a"/>
<rect x="662.0" y="309" width="3" height="24" fill="#1f5c36"/>
<rect x="663.0" y="310" width="1" height="22" fill="#5a9a70"/>
<rect x="667.0" y="306" width="1" height="19" fill="#75757a"/>
<rect x="666.0" y="309" width="3" height="7" fill="#1f5c36"/>
<rect x="667.0" y="310" width="1" height="5" fill="#5a9a70"/>
<rect x="671.0" y="294" width="1" height="18" fill="#75757a"/>
<rect x="670.0" y="294" width="3" height="16" fill="#1f5c36"/>
<rect x="671.0" y="295" width="1" height="14" fill="#5a9a70"/>
<rect x="674.0" y="281" width="1" height="23" fill="#75757a"/>
<rect x="673.0" y="287" width="3" height="8" fill="#1f5c36"/>
<rect x="674.0" y="288" width="1" height="6" fill="#5a9a70"/>
<rect x="678.0" y="283" width="1" height="15" fill="#75757a"/>
<rect x="677.0" y="285" width="3" height="10" fill="#1f5c36"/>
<rect x="678.0" y="286" width="1" height="8" fill="#5a9a70"/>
<rect x="681.0" y="259" width="1" height="27" fill="#75757a"/>
<rect x="680.0" y="261" width="3" height="24" fill="#1f5c36"/>
<rect x="681.0" y="262" width="1" height="22" fill="#5a9a70"/>
<rect x="685.0" y="251" width="1" height="29" fill="#75757a"/>
<rect x="684.0" y="260" width="3" height="19" fill="#6b1810"/>
<rect x="685.0" y="261" width="1" height="17" fill="#e0533a"/>
<rect x="688.0" y="267" width="1" height="23" fill="#75757a"/>
<rect x="687.0" y="269" width="3" height="8" fill="#1f5c36"/>
<rect x="688.0" y="270" width="1" height="6" fill="#5a9a70"/>
<rect x="692.0" y="258" width="1" height="26" fill="#75757a"/>
<rect x="691.0" y="262" width="3" height="13" fill="#1f5c36"/>
<rect x="692.0" y="263" width="1" height="11" fill="#5a9a70"/>
<rect x="695.0" y="268" width="1" height="45" fill="#75757a"/>
<rect x="694.0" y="268" width="3" height="34" fill="#6b1810"/>
<rect x="695.0" y="269" width="1" height="32" fill="#e0533a"/>
<rect x="699.0" y="292" width="1" height="34" fill="#75757a"/>
<rect x="698.0" y="301" width="3" height="2" fill="#1f5c36"/>
<rect x="702.0" y="287" width="1" height="38" fill="#75757a"/>
<rect x="701.0" y="288" width="3" height="22" fill="#1f5c36"/>
<rect x="702.0" y="289" width="1" height="20" fill="#5a9a70"/>
<rect x="706.0" y="264" width="1" height="33" fill="#75757a"/>
<rect x="705.0" y="273" width="3" height="16" fill="#1f5c36"/>
<rect x="706.0" y="274" width="1" height="14" fill="#5a9a70"/>
<rect x="710.0" y="270" width="1" height="18" fill="#75757a"/>
<rect x="709.0" y="281" width="3" height="2" fill="#1f5c36"/>
<rect x="713.0" y="269" width="1" height="22" fill="#75757a"/>
<rect x="712.0" y="271" width="3" height="11" fill="#1f5c36"/>
<rect x="713.0" y="272" width="1" height="9" fill="#5a9a70"/>
<rect x="717.0" y="255" width="1" height="24" fill="#75757a"/>
<rect x="716.0" y="263" width="3" height="10" fill="#1f5c36"/>
<rect x="717.0" y="264" width="1" height="8" fill="#5a9a70"/>
<rect x="720.0" y="251" width="1" height="21" fill="#75757a"/>
<rect x="719.0" y="251" width="3" height="20" fill="#1f5c36"/>
<rect x="720.0" y="252" width="1" height="18" fill="#5a9a70"/>
<rect x="724.0" y="241" width="1" height="22" fill="#75757a"/>
<rect x="723.0" y="252" width="3" height="4" fill="#6b1810"/>
<rect x="724.0" y="253" width="1" height="2" fill="#e0533a"/>
<rect x="727.0" y="254" width="1" height="39" fill="#75757a"/>
<rect x="726.0" y="259" width="3" height="25" fill="#6b1810"/>
<rect x="727.0" y="260" width="1" height="23" fill="#e0533a"/>
<rect x="731.0" y="269" width="1" height="25" fill="#75757a"/>
<rect x="730.0" y="274" width="3" height="8" fill="#1f5c36"/>
<rect x="731.0" y="275" width="1" height="6" fill="#5a9a70"/>
<rect x="734.0" y="267" width="1" height="20" fill="#75757a"/>
<rect x="733.0" y="269" width="3" height="9" fill="#6b1810"/>
<rect x="734.0" y="270" width="1" height="7" fill="#e0533a"/>
<rect x="738.0" y="264" width="1" height="26" fill="#75757a"/>
<rect x="737.0" y="264" width="3" height="21" fill="#1f5c36"/>
<rect x="738.0" y="265" width="1" height="19" fill="#5a9a70"/>
<rect x="742.0" y="260" width="1" height="15" fill="#75757a"/>
<rect x="741.0" y="263" width="3" height="7" fill="#6b1810"/>
<rect x="742.0" y="264" width="1" height="5" fill="#e0533a"/>
<rect x="745.0" y="255" width="1" height="19" fill="#75757a"/>
<rect x="744.0" y="261" width="3" height="3" fill="#1f5c36"/>
<rect x="745.0" y="262" width="1" height="1" fill="#5a9a70"/>
<rect x="749.0" y="251" width="1" height="16" fill="#75757a"/>
<rect x="748.0" y="251" width="3" height="12" fill="#1f5c36"/>
<rect x="749.0" y="252" width="1" height="10" fill="#5a9a70"/>
<rect x="752.0" y="246" width="1" height="11" fill="#75757a"/>
<rect x="751.0" y="252" width="3" height="4" fill="#1f5c36"/>
<rect x="752.0" y="253" width="1" height="2" fill="#5a9a70"/>
<rect x="756.0" y="248" width="1" height="13" fill="#75757a"/>
<rect x="755.0" y="252" width="3" height="1" fill="#6b1810"/>
<rect x="759.0" y="247" width="1" height="10" fill="#75757a"/>
<rect x="758.0" y="248" width="3" height="8" fill="#1f5c36"/>
<rect x="759.0" y="249" width="1" height="6" fill="#5a9a70"/>
<rect x="763.0" y="248" width="1" height="19" fill="#75757a"/>
<rect x="762.0" y="248" width="3" height="15" fill="#6b1810"/>
<rect x="763.0" y="249" width="1" height="13" fill="#e0533a"/>
<rect x="766.0" y="249" width="1" height="26" fill="#75757a"/>
<rect x="765.0" y="250" width="3" height="12" fill="#1f5c36"/>
<rect x="766.0" y="251" width="1" height="10" fill="#5a9a70"/>
<rect x="770.0" y="249" width="1" height="15" fill="#75757a"/>
<rect x="769.0" y="252" width="3" height="5" fill="#6b1810"/>
<rect x="770.0" y="253" width="1" height="3" fill="#e0533a"/>
<rect x="773.0" y="250" width="1" height="19" fill="#75757a"/>
<rect x="772.0" y="253" width="3" height="10" fill="#1f5c36"/>
<rect x="773.0" y="254" width="1" height="8" fill="#5a9a70"/>
<rect x="777.0" y="243" width="1" height="14" fill="#75757a"/>
<rect x="776.0" y="243" width="3" height="6" fill="#1f5c36"/>
<rect x="777.0" y="244" width="1" height="4" fill="#5a9a70"/>
<rect x="781.0" y="244" width="1" height="9" fill="#75757a"/>
<rect x="780.0" y="246" width="3" height="3" fill="#6b1810"/>
<rect x="781.0" y="247" width="1" height="1" fill="#e0533a"/>
<rect x="784.0" y="247" width="1" height="11" fill="#75757a"/>
<rect x="783.0" y="249" width="3" height="1" fill="#6b1810"/>
<rect x="788.0" y="249" width="1" height="12" fill="#75757a"/>
<rect x="787.0" y="249" width="3" height="1" fill="#1f5c36"/>
<rect x="791.0" y="230" width="1" height="20" fill="#75757a"/>
<rect x="790.0" y="237" width="3" height="13" fill="#1f5c36"/>
<rect x="791.0" y="238" width="1" height="11" fill="#5a9a70"/>
<rect x="795.0" y="236" width="1" height="11" fill="#75757a"/>
<rect x="794.0" y="237" width="3" height="6" fill="#1f5c36"/>
<rect x="795.0" y="238" width="1" height="4" fill="#5a9a70"/>
<rect x="798.0" y="232" width="1" height="19" fill="#75757a"/>
<rect x="797.0" y="237" width="3" height="11" fill="#6b1810"/>
<rect x="798.0" y="238" width="1" height="9" fill="#e0533a"/>
<rect x="802.0" y="240" width="1" height="13" fill="#75757a"/>
<rect x="801.0" y="244" width="3" height="5" fill="#1f5c36"/>
<rect x="802.0" y="245" width="1" height="3" fill="#5a9a70"/>
<rect x="805.0" y="237" width="1" height="17" fill="#75757a"/>
<rect x="804.0" y="239" width="3" height="5" fill="#1f5c36"/>
<rect x="805.0" y="240" width="1" height="3" fill="#5a9a70"/>
<rect x="809.0" y="236" width="1" height="13" fill="#75757a"/>
<rect x="808.0" y="238" width="3" height="7" fill="#6b1810"/>
<rect x="809.0" y="239" width="1" height="5" fill="#e0533a"/>
<rect x="813.0" y="239" width="1" height="8" fill="#75757a"/>
<rect x="812.0" y="242" width="3" height="3" fill="#1f5c36"/>
<rect x="813.0" y="243" width="1" height="1" fill="#5a9a70"/>
<rect x="816.0" y="241" width="1" height="33" fill="#75757a"/>
<rect x="815.0" y="241" width="3" height="17" fill="#6b1810"/>
<rect x="816.0" y="242" width="1" height="15" fill="#e0533a"/>
<rect x="820.0" y="249" width="1" height="12" fill="#75757a"/>
<rect x="819.0" y="251" width="3" height="3" fill="#6b1810"/>
<rect x="820.0" y="252" width="1" height="1" fill="#e0533a"/>
<rect x="823.0" y="241" width="1" height="21" fill="#75757a"/>
<rect x="822.0" y="243" width="3" height="10" fill="#1f5c36"/>
<rect x="823.0" y="244" width="1" height="8" fill="#5a9a70"/>
<rect x="827.0" y="233" width="1" height="22" fill="#75757a"/>
<rect x="826.0" y="237" width="3" height="11" fill="#1f5c36"/>
<rect x="827.0" y="238" width="1" height="9" fill="#5a9a70"/>
<rect x="830.0" y="217" width="1" height="23" fill="#75757a"/>
<rect x="829.0" y="230" width="3" height="10" fill="#1f5c36"/>
<rect x="830.0" y="231" width="1" height="8" fill="#5a9a70"/>
<rect x="834.0" y="225" width="1" height="12" fill="#75757a"/>
<rect x="833.0" y="230" width="3" height="4" fill="#6b1810"/>
<rect x="834.0" y="231" width="1" height="2" fill="#e0533a"/>
<rect x="837.0" y="230" width="1" height="13" fill="#75757a"/>
<rect x="836.0" y="233" width="3" height="9" fill="#6b1810"/>
<rect x="837.0" y="234" width="1" height="7" fill="#e0533a"/>
<rect x="841.0" y="229" width="1" height="13" fill="#75757a"/>
<rect x="840.0" y="233" width="3" height="6" fill="#1f5c36"/>
<rect x="841.0" y="234" width="1" height="4" fill="#5a9a70"/>
<rect x="844.0" y="222" width="1" height="17" fill="#75757a"/>
<rect x="843.0" y="233" width="3" height="5" fill="#6b1810"/>
<rect x="844.0" y="234" width="1" height="3" fill="#e0533a"/>
<rect x="848.0" y="222" width="1" height="17" fill="#75757a"/>
<rect x="847.0" y="224" width="3" height="14" fill="#1f5c36"/>
<rect x="848.0" y="225" width="1" height="12" fill="#5a9a70"/>
<rect x="852.0" y="223" width="1" height="8" fill="#75757a"/>
<rect x="851.0" y="226" width="3" height="3" fill="#6b1810"/>
<rect x="852.0" y="227" width="1" height="1" fill="#e0533a"/>
<rect x="855.0" y="226" width="1" height="11" fill="#75757a"/>
<rect x="854.0" y="228" width="3" height="4" fill="#6b1810"/>
<rect x="855.0" y="229" width="1" height="2" fill="#e0533a"/>
<rect x="859.0" y="221" width="1" height="14" fill="#75757a"/>
<rect x="858.0" y="222" width="3" height="7" fill="#1f5c36"/>
<rect x="859.0" y="223" width="1" height="5" fill="#5a9a70"/>
<rect x="862.0" y="220" width="1" height="11" fill="#75757a"/>
<rect x="861.0" y="222" width="3" height="2" fill="#1f5c36"/>
<rect x="866.0" y="222" width="1" height="8" fill="#75757a"/>
<rect x="865.0" y="223" width="3" height="4" fill="#1f5c36"/>
<rect x="866.0" y="224" width="1" height="2" fill="#5a9a70"/>
<rect x="869.0" y="224" width="1" height="17" fill="#75757a"/>
<rect x="868.0" y="225" width="3" height="2" fill="#6b1810"/>
<rect x="873.0" y="225" width="1" height="18" fill="#75757a"/>
<rect x="872.0" y="227" width="3" height="6" fill="#6b1810"/>
<rect x="873.0" y="228" width="1" height="4" fill="#e0533a"/>
<rect x="876.0" y="226" width="1" height="8" fill="#75757a"/>
<rect x="875.0" y="228" width="3" height="4" fill="#1f5c36"/>
<rect x="876.0" y="229" width="1" height="2" fill="#5a9a70"/>
<rect x="880.0" y="217" width="1" height="16" fill="#75757a"/>
<rect x="879.0" y="220" width="3" height="12" fill="#1f5c36"/>
<rect x="880.0" y="221" width="1" height="10" fill="#5a9a70"/>
<rect x="884.0" y="215" width="1" height="10" fill="#75757a"/>
<rect x="883.0" y="219" width="3" height="1" fill="#6b1810"/>
<rect x="887.0" y="218" width="1" height="14" fill="#75757a"/>
<rect x="886.0" y="218" width="3" height="6" fill="#6b1810"/>
<rect x="887.0" y="219" width="1" height="4" fill="#e0533a"/>
<rect x="891.0" y="219" width="1" height="9" fill="#75757a"/>
<rect x="890.0" y="224" width="3" height="1" fill="#1f5c36"/>
<rect x="894.0" y="217" width="1" height="13" fill="#75757a"/>
<rect x="893.0" y="224" width="3" height="5" fill="#6b1810"/>
<rect x="894.0" y="225" width="1" height="3" fill="#e0533a"/>
<rect x="898.0" y="219" width="1" height="9" fill="#75757a"/>
<rect x="897.0" y="226" width="3" height="1" fill="#6b1810"/>
<rect x="901.0" y="221" width="1" height="24" fill="#75757a"/>
<rect x="900.0" y="223" width="3" height="19" fill="#6b1810"/>
<rect x="901.0" y="224" width="1" height="17" fill="#e0533a"/>
<rect x="905.0" y="238" width="1" height="20" fill="#75757a"/>
<rect x="904.0" y="240" width="3" height="3" fill="#6b1810"/>
<rect x="905.0" y="241" width="1" height="1" fill="#e0533a"/>
<rect x="908.0" y="237" width="1" height="32" fill="#75757a"/>
<rect x="907.0" y="244" width="3" height="19" fill="#6b1810"/>
<rect x="908.0" y="245" width="1" height="17" fill="#e0533a"/>
<rect x="912.0" y="266" width="1" height="44" fill="#75757a"/>
<rect x="911.0" y="266" width="3" height="37" fill="#6b1810"/>
<rect x="912.0" y="267" width="1" height="35" fill="#e0533a"/>
<rect x="916.0" y="280" width="1" height="30" fill="#75757a"/>
<rect x="915.0" y="285" width="3" height="18" fill="#1f5c36"/>
<rect x="916.0" y="286" width="1" height="16" fill="#5a9a70"/>
<rect x="919.0" y="283" width="1" height="18" fill="#75757a"/>
<rect x="918.0" y="288" width="3" height="8" fill="#6b1810"/>
<rect x="919.0" y="289" width="1" height="6" fill="#e0533a"/>
<rect x="923.0" y="289" width="1" height="16" fill="#75757a"/>
<rect x="922.0" y="295" width="3" height="5" fill="#1f5c36"/>
<rect x="923.0" y="296" width="1" height="3" fill="#5a9a70"/>
<rect x="926.0" y="291" width="1" height="12" fill="#75757a"/>
<rect x="925.0" y="296" width="3" height="1" fill="#6b1810"/>
<rect x="930.0" y="280" width="1" height="20" fill="#75757a"/>
<rect x="929.0" y="283" width="3" height="14" fill="#1f5c36"/>
<rect x="930.0" y="284" width="1" height="12" fill="#5a9a70"/>
<rect x="933.0" y="257" width="1" height="26" fill="#75757a"/>
<rect x="932.0" y="259" width="3" height="24" fill="#1f5c36"/>
<rect x="933.0" y="260" width="1" height="22" fill="#5a9a70"/>
<rect x="937.0" y="246" width="1" height="24" fill="#75757a"/>
<rect x="936.0" y="249" width="3" height="10" fill="#1f5c36"/>
<rect x="937.0" y="250" width="1" height="8" fill="#5a9a70"/>
<rect x="940.0" y="244" width="1" height="15" fill="#75757a"/>
<rect x="939.0" y="248" width="3" height="2" fill="#1f5c36"/>
<rect x="944.0" y="246" width="1" height="34" fill="#75757a"/>
<rect x="943.0" y="249" width="3" height="22" fill="#6b1810"/>
<rect x="944.0" y="250" width="1" height="20" fill="#e0533a"/>
<rect x="947.0" y="261" width="1" height="15" fill="#75757a"/>
<rect x="946.0" y="266" width="3" height="2" fill="#6b1810"/>
<rect x="951.0" y="255" width="1" height="20" fill="#75757a"/>
<rect x="950.0" y="265" width="3" height="3" fill="#1f5c36"/>
<rect x="951.0" y="266" width="1" height="1" fill="#5a9a70"/>
<rect x="955.0" y="260" width="1" height="17" fill="#75757a"/>
<rect x="954.0" y="260" width="3" height="9" fill="#1f5c36"/>
<rect x="955.0" y="261" width="1" height="7" fill="#5a9a70"/>
<rect x="958.0" y="256" width="1" height="13" fill="#75757a"/>
<rect x="957.0" y="261" width="3" height="1" fill="#1f5c36"/>
<rect x="962.0" y="254" width="1" height="14" fill="#75757a"/>
<rect x="961.0" y="257" width="3" height="7" fill="#1f5c36"/>
<rect x="962.0" y="258" width="1" height="5" fill="#5a9a70"/>
<rect x="965.0" y="255" width="1" height="31" fill="#75757a"/>
<rect x="964.0" y="257" width="3" height="17" fill="#6b1810"/>
<rect x="965.0" y="258" width="1" height="15" fill="#e0533a"/>
<rect x="969.0" y="260" width="1" height="22" fill="#75757a"/>
<rect x="968.0" y="262" width="3" height="14" fill="#1f5c36"/>
<rect x="969.0" y="263" width="1" height="12" fill="#5a9a70"/>
<rect x="972.0" y="258" width="1" height="39" fill="#75757a"/>
<rect x="971.0" y="266" width="3" height="16" fill="#6b1810"/>
<rect x="972.0" y="267" width="1" height="14" fill="#e0533a"/>
<rect x="976.0" y="282" width="1" height="28" fill="#75757a"/>
<rect x="975.0" y="283" width="3" height="21" fill="#6b1810"/>
<rect x="976.0" y="284" width="1" height="19" fill="#e0533a"/>
<rect x="979.0" y="268" width="1" height="37" fill="#75757a"/>
<rect x="978.0" y="274" width="3" height="31" fill="#1f5c36"/>
<rect x="979.0" y="275" width="1" height="29" fill="#5a9a70"/>
<rect x="983.0" y="253" width="1" height="24" fill="#75757a"/>
<rect x="982.0" y="256" width="3" height="18" fill="#1f5c36"/>
<rect x="983.0" y="257" width="1" height="16" fill="#5a9a70"/>
<rect x="987.0" y="260" width="1" height="15" fill="#75757a"/>
<rect x="986.0" y="265" width="3" height="3" fill="#1f5c36"/>
<rect x="987.0" y="266" width="1" height="1" fill="#5a9a70"/>
<rect x="990.0" y="248" width="1" height="20" fill="#75757a"/>
<rect x="989.0" y="249" width="3" height="16" fill="#1f5c36"/>
<rect x="990.0" y="250" width="1" height="14" fill="#5a9a70"/>
<rect x="994.0" y="245" width="1" height="15" fill="#75757a"/>
<rect x="993.0" y="248" width="3" height="10" fill="#6b1810"/>
<rect x="994.0" y="249" width="1" height="8" fill="#e0533a"/>
<rect x="997.0" y="259" width="1" height="7" fill="#75757a"/>
<rect x="996.0" y="259" width="3" height="4" fill="#6b1810"/>
<rect x="997.0" y="260" width="1" height="2" fill="#e0533a"/>
</g>
<g shape-rendering="crispEdges">
<rect x="0" y="243" width="1226" height="1" fill="#ff0000"/>
<rect x="0" y="310" width="1226" height="1" fill="#38761d"/>
<rect x="0" y="353" width="1226" height="1" fill="#38761d"/>
<path d="M0 262.5H1226" stroke="#d75442" stroke-width="1" stroke-dasharray="1 2" fill="none"/>
</g>
<path d="M315.5 56.7L1142.7 286.3" stroke="#1c1c1c" stroke-width="1.25" fill="none"/>
<g shape-rendering="crispEdges" fill="#505050">
<rect x="0" y="0" width="1280" height="1" fill="#1c2030"/>
<rect x="0" y="562" width="1280" height="1"/>
<rect x="0" y="653" width="1280" height="1"/>
<rect x="1226" y="1" width="1" height="680"/>
<rect x="1227" y="16" width="4" height="1"/>
<rect x="1227" y="57" width="4" height="1"/>
<rect x="1227" y="102" width="4" height="1"/>
<rect x="1227" y="140" width="4" height="1"/>
<rect x="1227" y="182" width="4" height="1"/>
<rect x="1227" y="227" width="4" height="1"/>
<rect x="1227" y="277" width="4" height="1"/>
<rect x="1227" y="318" width="4" height="1"/>
<rect x="1227" y="363" width="4" height="1"/>
<rect x="1227" y="394" width="4" height="1"/>
<rect x="1227" y="429" width="4" height="1"/>
<rect x="1227" y="465" width="4" height="1"/>
<rect x="1227" y="504" width="4" height="1"/>
<rect x="1227" y="538" width="4" height="1"/>
<rect x="1227" y="572" width="4" height="1"/>
<rect x="1227" y="608" width="4" height="1"/>
<rect x="1227" y="645" width="4" height="1"/>
<rect x="3" y="654" width="1" height="3"/>
<rect x="156" y="654" width="1" height="3"/>
<rect x="301" y="654" width="1" height="3"/>
<rect x="443" y="654" width="1" height="3"/>
<rect x="596" y="654" width="1" height="3"/>
<rect x="745" y="654" width="1" height="3"/>
<rect x="898" y="654" width="1" height="3"/>
<rect x="1050" y="654" width="1" height="3"/>
<rect x="1207" y="654" width="1" height="3"/>
</g>
<g font-size="12" fill="#505050">
<text x="1235" y="21.0" textLength="29.5" lengthAdjust="spacingAndGlyphs">65.00</text>
<text x="1235" y="62.0" textLength="29.5" lengthAdjust="spacingAndGlyphs">60.00</text>
<text x="1235" y="106.5" textLength="29.5" lengthAdjust="spacingAndGlyphs">55.00</text>
<text x="1235" y="145.0" textLength="29.5" lengthAdjust="spacingAndGlyphs">51.00</text>
<text x="1235" y="187.0" textLength="29.5" lengthAdjust="spacingAndGlyphs">47.00</text>
<text x="1235" y="232.0" textLength="29.5" lengthAdjust="spacingAndGlyphs">43.00</text>
<text x="1235" y="282.0" textLength="29.5" lengthAdjust="spacingAndGlyphs">39.00</text>
<text x="1235" y="323.0" textLength="29.5" lengthAdjust="spacingAndGlyphs">36.00</text>
<text x="1235" y="367.5" textLength="29.5" lengthAdjust="spacingAndGlyphs">33.00</text>
<text x="1235" y="398.5" textLength="29.5" lengthAdjust="spacingAndGlyphs">31.00</text>
<text x="1235" y="434.0" textLength="29.5" lengthAdjust="spacingAndGlyphs">29.00</text>
<text x="1235" y="470.0" textLength="29.5" lengthAdjust="spacingAndGlyphs">27.00</text>
<text x="1235" y="508.5" textLength="29.5" lengthAdjust="spacingAndGlyphs">25.00</text>
<text x="1235" y="543.0" textLength="29.5" lengthAdjust="spacingAndGlyphs">23.40</text>
<text x="1235" y="577" textLength="36" lengthAdjust="spacingAndGlyphs">100.00</text>
<text x="1235" y="613" textLength="29.5" lengthAdjust="spacingAndGlyphs">50.00</text>
<text x="1235" y="650" textLength="23" lengthAdjust="spacingAndGlyphs">0.00</text>
</g>
<rect x="1226" y="234" width="47" height="19" fill="#ff0000" shape-rendering="crispEdges"/>
<rect x="1226" y="243" width="4" height="1" fill="#fff" shape-rendering="crispEdges"/>
<text x="1235" y="248.0" font-size="12" font-weight="bold" fill="#fff" textLength="30" lengthAdjust="spacingAndGlyphs">41.72</text>
<rect x="1226" y="253" width="47" height="19" fill="#d75442" shape-rendering="crispEdges"/>
<rect x="1226" y="262" width="4" height="1" fill="#fff" shape-rendering="crispEdges"/>
<text x="1235" y="267.0" font-size="12" font-weight="bold" fill="#fff" textLength="30" lengthAdjust="spacingAndGlyphs">40.15</text>
<rect x="1226" y="301" width="47" height="19" fill="#38761d" shape-rendering="crispEdges"/>
<rect x="1226" y="310" width="4" height="1" fill="#fff" shape-rendering="crispEdges"/>
<text x="1235" y="315.0" font-size="12" font-weight="bold" fill="#fff" textLength="30" lengthAdjust="spacingAndGlyphs">36.58</text>
<rect x="1226" y="344" width="47" height="19" fill="#38761d" shape-rendering="crispEdges"/>
<rect x="1226" y="353" width="4" height="1" fill="#fff" shape-rendering="crispEdges"/>
<text x="1235" y="358.0" font-size="12" font-weight="bold" fill="#fff" textLength="30" lengthAdjust="spacingAndGlyphs">33.60</text>
<rect x="1238.5" y="7.5" width="29" height="19" rx="3.5" fill="#fff" stroke="#d4d4d4"/>
<text x="1242.8" y="20.8" font-size="12" fill="#4a4a4a" textLength="20.5" lengthAdjust="spacingAndGlyphs">USD</text>
<g font-size="12" fill="#505050" text-anchor="middle">
<text x="2.5" y="672.7">Sep</text>
<text x="156.5" y="672.7">Nov</text>
<text x="443.5" y="672.7">Mar</text>
<text x="596.5" y="672.7">May</text>
<text x="745.5" y="672.7">Jul</text>
<text x="898.5" y="672.7">Sep</text>
<text x="1050.5" y="672.7">Nov</text>
</g>
<g font-size="12" fill="#3c3c3c" stroke="#3c3c3c" stroke-width="0.3" text-anchor="middle">
<text x="301.5" y="672.7">2020</text><text x="1206.3" y="672.7">2021</text>
</g>
<rect x="3" y="568" width="232" height="22.5" fill="#fff" fill-opacity="0.72"/>
<text y="22.6" font-size="15" fill="#4d4d4d"><tspan x="9.2" textLength="46.3" lengthAdjust="spacingAndGlyphs">CRUDE</tspan> <tspan x="61.7" textLength="22.8" lengthAdjust="spacingAndGlyphs">OIL</tspan> <tspan x="89.7" textLength="62.3" lengthAdjust="spacingAndGlyphs">FUTURES</tspan> <tspan x="159.3" textLength="33.9" lengthAdjust="spacingAndGlyphs">(NOV</tspan> <tspan x="198.7" textLength="38.5" lengthAdjust="spacingAndGlyphs">2020)</tspan> <tspan x="241.8">·</tspan> <tspan x="251.6" textLength="16.4" lengthAdjust="spacingAndGlyphs">1D</tspan></text>
<text x="9" y="45.5" font-size="12" fill="#555" textLength="67" lengthAdjust="spacingAndGlyphs">MA 50 close</text>
<text x="85" y="45.5" font-size="12" fill="#a329b5" textLength="32" lengthAdjust="spacingAndGlyphs">41.09</text>
<text x="9" y="583.5" font-size="12" fill="#555" textLength="143" lengthAdjust="spacingAndGlyphs">Stoch RSI 3 3 14 14 close</text>
<text x="160.5" y="583.5" font-size="12" fill="#2b95ff" textLength="32" lengthAdjust="spacingAndGlyphs">87.83</text>
<text x="198.5" y="583.5" font-size="12" fill="#f26b1d" textLength="32" lengthAdjust="spacingAndGlyphs">89.73</text>
<circle cx="23.2" cy="630" r="16.6" fill="#fff" stroke="#e6dfe6" stroke-width="0.8"/>
<g fill="#2b95ff"><circle cx="15.900" cy="632.100" r="3.700"/><circle cx="21.600" cy="627.800" r="4.800"/><circle cx="28.600" cy="630.200" r="3.700"/><circle cx="31" cy="632.700" r="3.300"/><rect x="15" y="630" width="16.500" height="6"/></g>
<path d="M11.500 634L20.600 627.600L25 632.900H27.300L32.300 627.300" fill="none" stroke="#fff" stroke-width="1.6"/>
<g stroke="#131722" fill="none" stroke-width="1.3"><circle cx="1253.4" cy="668.4" r="5.2"/><path d="M1253.4 661v2.200M1253.4 673.600v2.200M1246 668.400h2.200M1258.600 668.400h2.200M1248.100 663.100l1.600 1.600M1257.100 672.100l1.600 1.600M1248.100 673.700l1.600-1.600M1257.100 664.700l1.600-1.600"/></g>
<path d="M1280.5 488.300L1275.600 493.100H1278.300V505.400H1275.600L1280.500 510.500" fill="#fff" stroke="#333" stroke-width="1.2" stroke-linejoin="bevel"/>
</svg>
</body></html>
